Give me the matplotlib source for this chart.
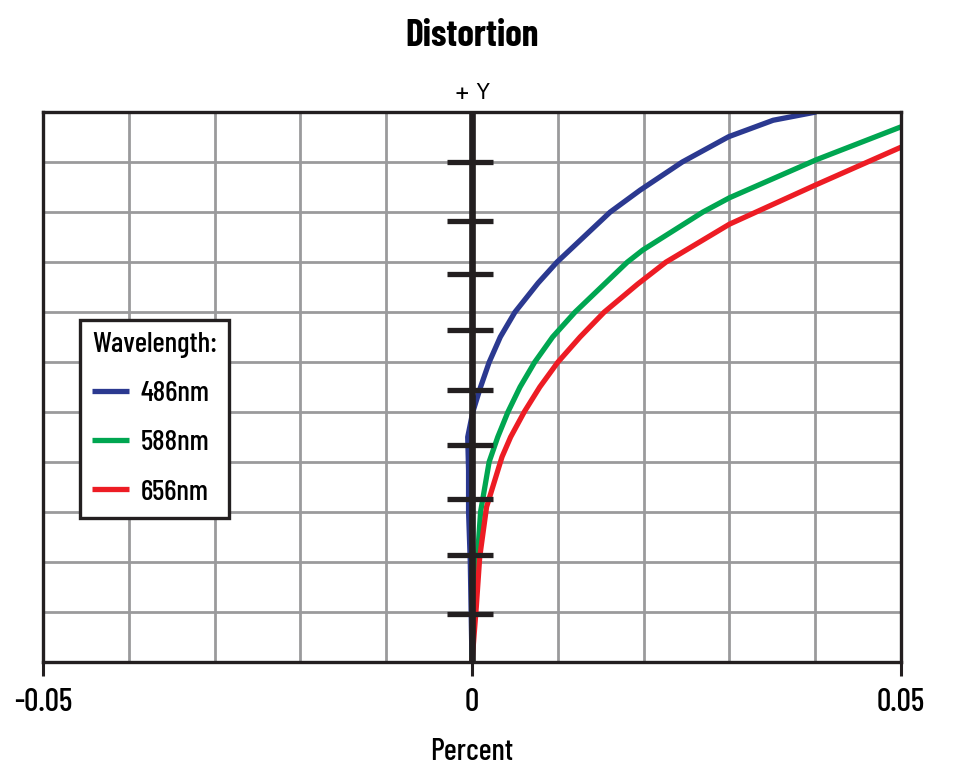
import numpy as np
import matplotlib
matplotlib.use('Agg')
from matplotlib import pyplot as plt
from matplotlib import font_manager

installed = {f.name for f in font_manager.fontManager.ttflist}
narrow = [f for f in ['Barlow Condensed', 'Roboto Condensed', 'Oswald', 'Archivo Narrow',
                      'PT Sans Narrow', 'Liberation Sans Narrow'] if f in installed]
plain = [f for f in ['Jost', 'Barlow', 'Lato'] if f in installed]
plt.rcParams['font.family'] = narrow[:1] + ['DejaVu Sans']

# distortion (percent) vs relative field height
blue_x = [0.0, -0.0001, -0.0002, -0.0004, -0.0004, -0.0005, 0.0001, 0.0010, 0.0020, 0.0033,
          0.0050, 0.0077, 0.0099, 0.0161, 0.0196, 0.0245, 0.0299, 0.0351, 0.0401]
blue_y = [0.0, 0.091, 0.182, 0.273, 0.349, 0.409, 0.455, 0.500, 0.545, 0.591,
          0.636, 0.689, 0.727, 0.818, 0.858, 0.909, 0.955, 0.985, 1.000]

green_x = [0.0, 0.0002, 0.0006, 0.0010, 0.0020, 0.0030, 0.0042, 0.0056, 0.0073, 0.0094,
           0.0120, 0.0181, 0.0199, 0.0269, 0.0300, 0.0401, 0.0500]
green_y = [0.0, 0.091, 0.182, 0.273, 0.364, 0.409, 0.455, 0.500, 0.545, 0.591,
           0.636, 0.727, 0.749, 0.818, 0.844, 0.913, 0.973]

red_x = [0.0, 0.0005, 0.0009, 0.0017, 0.0035, 0.0045, 0.0061, 0.0079, 0.0100, 0.0126,
         0.0154, 0.0193, 0.0226, 0.0300, 0.0400, 0.0500]
red_y = [0.0, 0.100, 0.191, 0.282, 0.373, 0.409, 0.455, 0.500, 0.545, 0.591,
         0.636, 0.687, 0.727, 0.796, 0.867, 0.936]

labels = ['486nm', '588nm', '656nm']
colors = ['#2b3990', '#00a651', '#ed1c24']

# field marks on the centre axis
field_ticks = [0.087, 0.194, 0.296, 0.394, 0.495, 0.603, 0.705, 0.802, 0.910]
x_ticks = [-0.05, 0, 0.05]
x_ticklabels = ['-0.05', '0', '0.05']

fig = plt.figure(figsize=(9.65, 7.76), dpi=100)
ax = fig.add_axes([43 / 965, 114 / 776, 858 / 965, 550 / 776])

ax.set_xlim(-0.05, 0.05)
ax.set_ylim(0, 1)

# grid
for gx in np.arange(-0.04, 0.045, 0.01):
    ax.axvline(gx, color='#9a9a9c', lw=2.0, zorder=1)
for gy in np.arange(1, 11) / 11:
    ax.axhline(gy, color='#9a9a9c', lw=2.0, zorder=1)

lines = []
for xs, ys, lab, col in zip([blue_x, green_x, red_x], [blue_y, green_y, red_y], labels, colors):
    ln, = ax.plot(xs, ys, color=col, lw=3.8, label=lab, solid_capstyle='butt',
                  solid_joinstyle='round', zorder=3)
    lines.append(ln)

# centre axis with field marks
ax.axvline(0, color='#231f20', lw=4.8, zorder=4)
ax.hlines(field_ticks, -0.0029, 0.0025, color='#231f20', lw=3.8, zorder=4)

for s in ax.spines.values():
    s.set_linewidth(2.4)
    s.set_color('#231f20')
    s.set_zorder(5)

ax.set_yticks([])
ax.set_xticks(x_ticks)
ax.set_xticklabels(x_ticklabels, fontsize=23, fontweight='medium')
ax.tick_params(axis='x', length=10, width=2.2, color='#231f20', pad=9)

ax.text(0, -0.163, 'Percent', transform=ax.get_xaxis_transform(), ha='center', va='center',
        fontsize=22, fontweight='medium')
ax.text(0, 1.036, '+ Y', transform=ax.get_xaxis_transform(), ha='center', va='center',
        fontsize=17, fontweight='light', family=plain[:1] + ['DejaVu Sans'])
fig.text(472 / 965, 1 - 36 / 776, 'Distortion', ha='center', va='center', fontsize=27,
         fontweight='bold')

leg = ax.legend(handles=lines, title='Wavelength:', loc='upper left', bbox_to_anchor=(0.0431, 0.622),
                borderaxespad=0, prop={'size': 21, 'weight': 'medium'}, title_fontsize=21,
                handlelength=1.25, handletextpad=0.4, labelspacing=0.78, borderpad=0.42,
                fancybox=False, framealpha=1, edgecolor='#231f20')
leg.get_title().set_fontweight('medium')
leg.get_frame().set_linewidth(2.4)
leg._legend_box.align = 'left'
leg.set_zorder(6)

fig.savefig('out.png', dpi=100)
